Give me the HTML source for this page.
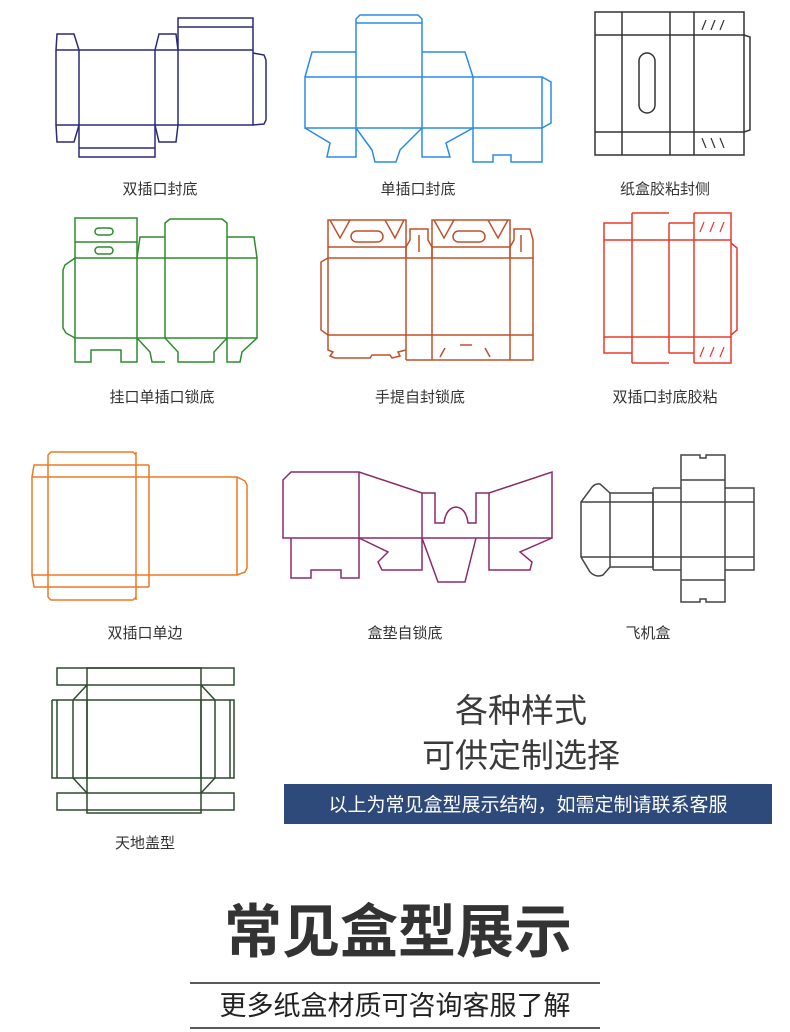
<!DOCTYPE html>
<html><head><meta charset="utf-8"><style>
body{margin:0;background:#fff;width:790px;height:1032px;overflow:hidden}
svg{display:block}
text{font-family:"Liberation Sans","Noto Sans CJK SC",sans-serif}
</style></head><body>
<svg width="790" height="1032" viewBox="0 0 790 1032" fill="none" stroke-width="1.5">
<!-- Box1 navy -->
<g stroke="#2b2a7a">
<rect x="79" y="50" width="174" height="75"/>
<line x1="155" y1="50" x2="155" y2="125"/><line x1="178" y1="50" x2="178" y2="125"/>
<path d="M79 50 L56 50 L56 125 L79 125 M56 50 L57 34 L74 34 L79 50 M56 125 L57 142 L74 142 L79 125"/>
<path d="M155 50 L159 34 L176 34 L178 50 M155 125 L159 142 L176 142 L178 125"/>
<path d="M178 50 L178 18 L253 18 L253 50 M178 27 L253 27"/>
<path d="M79 125 L79 157 L155 157 L155 125 M79 148 L155 148"/>
<path d="M253 53 L264 55 L266 60 L266 120 L264 124 L253 125"/>
</g>
<!-- Box2 blue -->
<g stroke="#2a8ae8">
<rect x="305" y="77" width="237" height="51"/>
<line x1="356" y1="77" x2="356" y2="128"/><line x1="422" y1="77" x2="422" y2="128"/><line x1="473" y1="77" x2="473" y2="128"/>
<path d="M356 77 L356 19 L360 15 L418 15 L422 19 L422 77 M356 23 L422 23"/>
<path d="M305 77 L312 52 L356 52 M422 52 L465 52 L473 77"/>
<path d="M542 77 L551 82 L551 123 L542 128"/>
<path d="M305 128 L330 143 L327 157 L356 157 L356 128 M356 128 L372 150 L375 162 L396 162 L400 150 L422 128 M422 128 L422 157 L450 157 L446 143 L473 128 M473 128 L473 162 L493 162 L493 155 L511 155 L511 162 L542 162 L542 128"/>
</g>
<!-- Box3 gray -->
<g stroke="#333">
<rect x="595" y="12" width="149" height="143"/>
<line x1="595" y1="35" x2="744" y2="35"/><line x1="595" y1="132" x2="744" y2="132"/>
<line x1="622" y1="12" x2="622" y2="155"/><line x1="670" y1="12" x2="670" y2="155"/><line x1="694" y1="12" x2="694" y2="155"/>
<path d="M744 35 L750 37 L750 130 L744 132"/>
<rect x="639" y="53" width="16" height="60" rx="8"/>
<path d="M702 30 L706 20 M711 30 L715 20 M720 30 L724 20 M702 138 L706 148 M711 138 L715 148 M720 138 L724 148" stroke-width="1.2"/>
</g>
<!-- Box4 green -->
<g stroke="#2e8b2e">
<rect x="75" y="258" width="182" height="80"/>
<line x1="137" y1="258" x2="137" y2="338"/><line x1="165" y1="258" x2="165" y2="338"/><line x1="227" y1="258" x2="227" y2="338"/>
<path d="M75 258 L65 265 L63 270 L63 328 L66 333 L75 338"/>
<path d="M75 258 L75 218 L137 218 L137 258 M75 242 L137 242"/>
<rect x="95" y="228" width="18" height="7" rx="3.5"/><rect x="95" y="247" width="18" height="7" rx="3.5"/>
<path d="M137 258 L140 237 L165 237 M227 237 L254 237 L257 258"/>
<path d="M165 258 L165 223 L170 219 L222 219 L227 223 L227 258"/>
<path d="M75 338 L75 362 L91 362 L91 350 L121 350 L121 362 L137 362 L137 338 M137 338 L150 352 L152 362 L165 362 M165 338 L178 352 L178 362 L214 362 L214 352 L227 338 M227 338 L227 362 L240 362 L242 352 L257 338"/>
</g>
<!-- Box5 brown -->
<g stroke="#c0502a">
<rect x="328" y="258" width="205" height="77"/>
<line x1="406" y1="247" x2="406" y2="360"/><line x1="432" y1="247" x2="432" y2="360"/><line x1="510" y1="247" x2="510" y2="360"/>
<path d="M328 258 L321 262 L321 330 L328 335"/>
<path d="M328 258 L328 220 L406 220 L406 258 M328 247 L406 247 M330 220 L340 238 L350 220 M385 220 L395 238 L404 220"/>
<rect x="351" y="231" width="32" height="11" rx="5.5"/>
<path d="M432 258 L432 220 L510 220 L510 258 M432 247 L510 247 M434 220 L444 238 L454 220 M488 220 L498 238 L508 220"/>
<rect x="453" y="231" width="32" height="11" rx="5.5"/>
<path d="M406 247 L410 240 L410 229 L428 229 L428 240 L432 247 M419 235 L419 252"/>
<path d="M510 247 L514 240 L514 229 L530 229 L533 240 L533 258 M521 235 L521 252"/>
<path d="M406 360 L533 360 L533 335"/>
<path d="M328 335 L328 350 L333 352 L330 356 L335 358 L370 358 L372 355 L390 355 L392 358 L400 356 L398 352 L406 350"/>
<path d="M445 348 L440 357 M460 345 L472 345 M485 348 L490 357"/>
</g>
<!-- Box6 red -->
<g stroke="#e83a2a">
<rect x="604" y="240" width="127" height="97"/>
<line x1="632" y1="213" x2="632" y2="363"/><line x1="669" y1="223" x2="669" y2="353"/><line x1="694" y1="213" x2="694" y2="363"/>
<path d="M604 240 L604 223 L632 223 M632 213 L669 213 M669 223 L694 223 M694 213 L731 213 L731 240"/>
<path d="M604 337 L604 353 L632 353 M632 363 L669 363 M669 353 L694 353 M694 363 L731 363 L731 337"/>
<path d="M731 243 L737 248 L737 330 L731 335"/>
<path d="M700 232 L704 222 M710 232 L714 222 M720 232 L724 222 M700 357 L704 347 M710 357 L714 347 M720 357 L724 347" stroke-width="1.2"/>
</g>
<!-- Box7 orange -->
<g stroke="#f07820">
<rect x="32" y="477" width="205" height="98"/>
<line x1="48" y1="465" x2="48" y2="587"/><line x1="136" y1="452" x2="136" y2="600"/><line x1="149" y1="465" x2="149" y2="587"/>
<path d="M32 477 L34 465 L149 465 M32 575 L34 587 L149 587"/>
<path d="M48 465 L48 455 L51 452 L133 452 L136 455 M48 587 L48 597 L51 600 L133 600 L136 597"/>
<path d="M237 477 L245 481 L247 485 L247 568 L245 572 L237 575"/>
</g>
<!-- Box8 purple -->
<g stroke="#8b2a6b">
<path d="M291 472 L359 472 L422 493 L435 493 L435 523 L444 523 Q446 508 456 507 Q466 508 468 523 L476 523 L476 493 L489 493 L552 472 L552 538 L283 538 L283 480 Z"/>
<line x1="359" y1="472" x2="359" y2="538"/><line x1="422" y1="493" x2="422" y2="538"/><line x1="489" y1="493" x2="489" y2="538"/>
<path d="M291 538 L291 578 L311 578 L311 570 L341 570 L341 578 L359 578 L359 538 M359 538 L388 552 L378 562 L382 570 L422 570 L422 538 M422 538 L438 582 L465 582 L476 538 M489 538 L489 570 L530 570 L532 562 L520 552 L552 538"/>
</g>
<!-- Box9 gray -->
<g stroke="#444">
<path d="M610 493 L610 567 M581 502 L754 502 M581 557 L754 557"/>
<path d="M610 493 L600 484 Q594 483 590 490 L581 502 L581 557 L590 572 Q596 578 603 575 L610 567"/>
<path d="M610 493 L653 493 L653 567 L610 567"/>
<path d="M653 488 L681 488 M653 570 L681 570 M653 488 L653 570"/>
<path d="M681 455 L700 455 L700 458 L706 458 L706 455 L725 455 L725 602 L706 602 L706 599 L700 599 L700 602 L681 602 Z M681 480 L725 480 M681 580 L725 580"/>
<path d="M725 488 L754 488 L754 570 L725 570"/>
</g>
<!-- Box10 dark green -->
<g stroke="#2d4a2d">
<rect x="87" y="700" width="114" height="78"/>
<rect x="57" y="668" width="177" height="17"/><rect x="57" y="793" width="177" height="17"/>
<path d="M87 668 L87 813 L201 813 L201 668 Z M52 700 L52 778 L87 778 M57 700 L57 778 M201 700 L234 700 L234 778 L201 778 M230 700 L230 778"/>
<path d="M87 685 L73 700 L73 778 L87 793 M201 685 L215 700 L215 778 L201 793 M52 700 L87 700"/>
</g>
<g fill="#333" stroke="none" font-size="15" text-anchor="middle">
<text x="160" y="194">双插口封底</text><text x="418" y="194">单插口封底</text><text x="665" y="194">纸盒胶粘封侧</text>
<text x="162" y="402">挂口单插口锁底</text><text x="420" y="402">手提自封锁底</text><text x="665" y="402">双插口封底胶粘</text>
<text x="145" y="638">双插口单边</text><text x="405" y="638">盒垫自锁底</text><text x="648" y="638">飞机盒</text>
<text x="145" y="848">天地盖型</text>
<text x="521" y="722" font-size="33" fill="#3a3a3a">各种样式</text>
<text x="521" y="767" font-size="33" fill="#3a3a3a">可供定制选择</text>
</g>
<rect x="284" y="784" width="488" height="40" fill="#2e4a7a"/>
<text x="528" y="811" font-size="19" fill="#fff" text-anchor="middle">以上为常见盒型展示结构，如需定制请联系客服</text>
<text x="398" y="952" font-size="58" font-weight="bold" fill="#333" text-anchor="middle">常见盒型展示</text>
<line x1="190" y1="983" x2="600" y2="983" stroke="#222" stroke-width="1.5"/>
<line x1="190" y1="1028" x2="600" y2="1028" stroke="#222" stroke-width="1.5"/>
<text x="395" y="1015" font-size="27" fill="#222" text-anchor="middle">更多纸盒材质可咨询客服了解</text>
</svg>
</body></html>
